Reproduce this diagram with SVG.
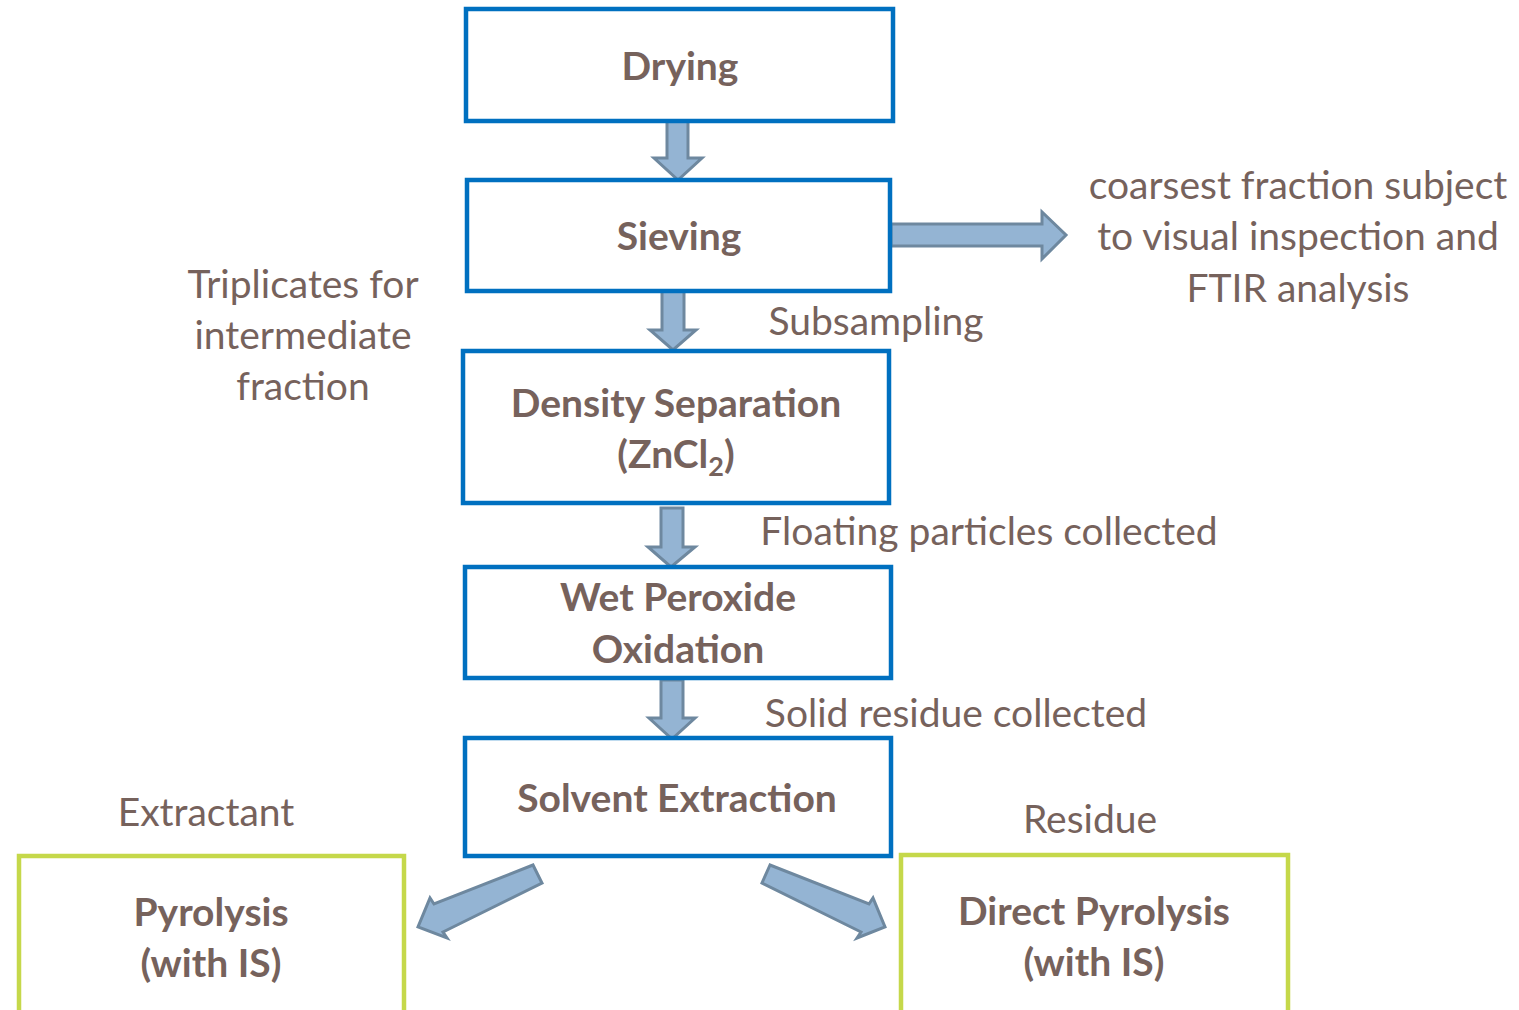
<svg xmlns="http://www.w3.org/2000/svg" width="1519" height="1010" viewBox="0 0 1519 1010">
<style>
.box{fill:#fff;stroke:#0070C0;stroke-width:4.5}
.gbox{fill:#fff;stroke:#C5D84A;stroke-width:4.5}
.arr{fill:#94B4D3;stroke:#6E889F;stroke-width:3;stroke-linejoin:miter}
text{font-family:Lato,"Open Sans",sans-serif;fill:#76625C;font-size:39px;text-anchor:middle}
.n{font-weight:700}
</style>
<rect width="1519" height="1010" fill="#fff"/>
<g id="connectors">
<path class="arr" d="M667,120 H688 V158 H702 L678,180 L654,158 H667 Z"/>
<path class="arr" d="M662,290 H684 V330 H696 L673,350 L650,330 H662 Z"/>
<path class="arr" d="M661,508 H683 V547 H695 L671,567 L648,547 H661 Z"/>
<path class="arr" d="M661,680 H683 V718 H695 L672,739 L649,718 H661 Z"/>
<path class="arr" d="M891,224 H1042 V212 L1066,235 L1042,259 V246 H891 Z"/>
<path class="arr" d="M533,865 L542,883 L443,932 L447,938 L418,927 L430,898 L434,904 Z"/>
<path class="arr" d="M770,865 L762,883 L861,932 L857,938 L885,927 L873,898 L869,904 Z"/>
</g>
<g id="drying"><rect class="box" x="466" y="9" width="427" height="112"/><text class="n" x="680" y="80">Drying</text></g>
<g id="sieving"><rect class="box" x="467" y="180" width="423" height="111"/><text class="n" x="679" y="250">Sieving</text></g>
<g id="density"><rect class="box" x="463" y="351" width="426" height="152"/><text class="n" x="676" y="417">Density Separation</text><text class="n" x="676" y="468">(ZnCl<tspan font-size="27" dy="8">2</tspan><tspan dy="-8">)</tspan></text></g>
<g id="wet"><rect class="box" x="465" y="567" width="426" height="111"/><text class="n" x="678" y="611">Wet Peroxide</text><text class="n" x="678" y="663">Oxidation</text></g>
<g id="solvent"><rect class="box" x="465" y="738" width="426" height="118"/><text class="n" x="677" y="812">Solvent Extraction</text></g>
<g id="pyrolysis"><rect class="gbox" x="19" y="856" width="385" height="170"/><text class="n" x="211" y="926">Pyrolysis</text><text class="n" x="211" y="977">(with IS)</text></g>
<g id="direct"><rect class="gbox" x="901" y="855" width="387" height="170"/><text class="n" x="1094" y="925">Direct Pyrolysis</text><text class="n" x="1094" y="976">(with IS)</text></g>
<g id="labels">
<text x="303" y="298">Triplicates for</text>
<text x="303" y="349">intermediate</text>
<text x="303" y="400">fraction</text>
<text x="876" y="335">Subsampling</text>
<text x="1298" y="199">coarsest fraction subject</text>
<text x="1298" y="250">to visual inspection and</text>
<text x="1298" y="302">FTIR analysis</text>
<text x="989" y="545">Floating particles collected</text>
<text x="956" y="727">Solid residue collected</text>
<text x="206" y="826">Extractant</text>
<text x="1090" y="833">Residue</text>
</g>
</svg>
